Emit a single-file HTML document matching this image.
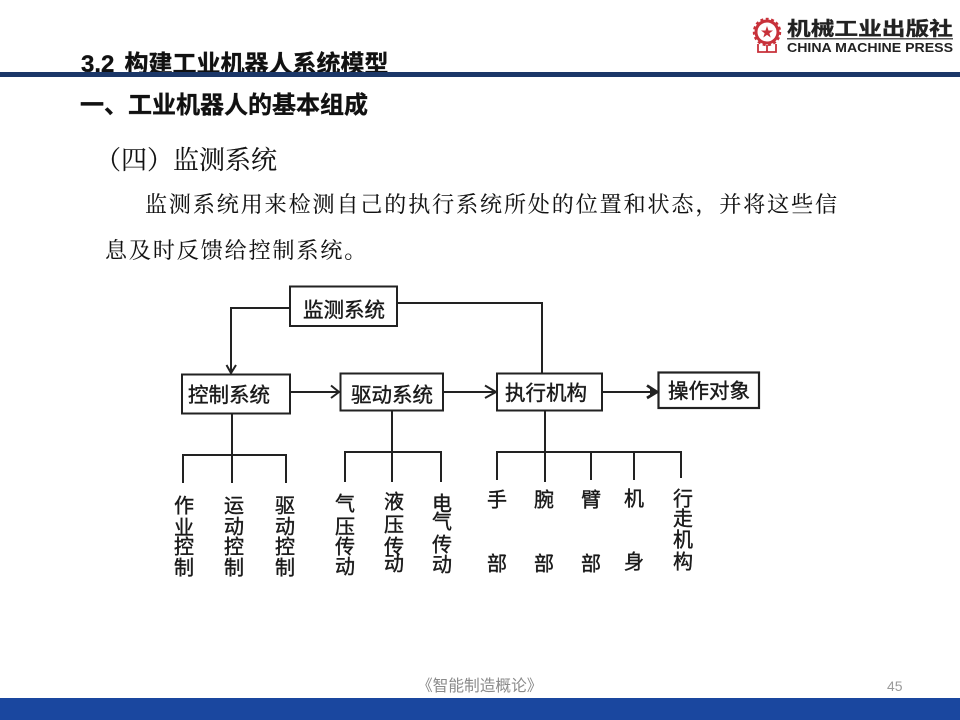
<!DOCTYPE html>
<html lang="zh">
<head>
<meta charset="utf-8">
<title>监测系统</title>
<style>
html,body{margin:0;padding:0;background:#fff;}
svg{display:block;}
.h{font-family:"Liberation Sans","Noto Sans CJK SC",sans-serif;font-weight:700;fill:#111;stroke:#111;stroke-width:.35;}
.s{font-family:"Liberation Serif","Noto Serif CJK SC",serif;fill:#111;stroke:#111;stroke-width:.12;}
.b{font-family:"WenQuanYi Zen Hei","Noto Sans CJK SC",sans-serif;fill:#1a1a1a;stroke:#1a1a1a;stroke-width:.4;font-size:20.5px;text-anchor:middle;dominant-baseline:central;}
.l{font-family:"WenQuanYi Zen Hei","Noto Sans CJK SC",sans-serif;fill:#1a1a1a;stroke:#1a1a1a;stroke-width:.4;font-size:20px;text-anchor:middle;dominant-baseline:central;}
.f{font-family:"Liberation Sans","Noto Sans CJK SC",sans-serif;}
</style>
</head>
<body>
<svg xmlns="http://www.w3.org/2000/svg" width="960" height="720" viewBox="0 0 960 720">
<defs><filter id="bl" x="-5%" y="-5%" width="110%" height="110%"><feGaussianBlur stdDeviation="0.35"/></filter></defs>
<rect width="960" height="720" fill="#fff"/>

<!-- headings and bar -->
<text class="h" x="81" y="72" font-size="24">3.2 <tspan x="124.500">构建工业机器人系统模型</tspan></text>
<rect x="0" y="72" width="960" height="5" fill="#1b3768"/>
<text class="h" x="80" y="113" font-size="24">一、工业机器人的基本组成</text>

<!-- logo -->
<g fill="none" stroke="#c8313a">
<circle cx="767" cy="32" r="11" stroke-width="3"/>
<circle cx="767" cy="32" r="13.200" stroke-width="2" stroke-dasharray="3 2.500"/>
<path d="M758 44v8h8.500l.5-1.500 .5 1.500h8.500v-8M767 45v5" stroke-width="1.800"/>
</g>
<polygon fill="#c8313a" points="767,26 768.500,30.500 773,30.500 769.400,33.200 770.700,37.500 767,34.900 763.300,37.500 764.600,33.200 761,30.500 765.500,30.500"/>
<g transform="translate(787 35) scale(1 .8)">
<text class="f" x="0" y="0" font-size="23.700" font-weight="700" fill="#222" stroke="#222" stroke-width=".4">机械工业出版社</text>
</g>
<rect x="787" y="38" width="166" height="1.500" fill="#555"/>
<text class="f" x="787" y="52" font-size="13.200" font-weight="700" fill="#222" textLength="166" lengthAdjust="spacingAndGlyphs">CHINA MACHINE PRESS</text>

<!-- body text -->
<text class="s" x="95" y="169" font-size="26">（四）监测系统</text>
<text class="s" x="145" y="212" font-size="22" letter-spacing="1.930">监测系统用来检测自己的执行系统所处的位置和状态，并将这些信</text>
<text class="s" x="105" y="258" font-size="22" letter-spacing="1.930">息及时反馈给控制系统。</text>

<!-- diagram -->
<g filter="url(#bl)">
<g fill="none" stroke="#222" stroke-width="2">
<rect x="290" y="286.500" width="107" height="39.500"/>
<rect x="182" y="374.500" width="108" height="39"/>
<rect x="340.500" y="373.500" width="102.500" height="37"/>
<rect x="497" y="373.500" width="105" height="37"/>
<rect x="658.500" y="372.500" width="100.500" height="35.500" stroke-width="2.200"/>
<path d="M289 308H231V372"/>
<path d="M397 303H542V373"/>
<path d="M290 392H338"/>
<path d="M443 392H495"/>
<path d="M602 392H656"/>
<path d="M232 414V483M183 483V455H286V483"/>
<path d="M392 410V482M345 482V452H441V482"/>
<path d="M545 410V482M497 480V452H681V478M591 452V480M634 452V480"/>
<!-- arrowheads -->
<path d="M226.500 365L231 373L236 365"/>
<path d="M331 385.500L339 392L331 398"/>
<path d="M485 385.500L496 392L485 398"/>
<path d="M647 385.500L657 392L647 398" stroke-width="2.800"/>
</g>
<polygon points="228,369 234,369 231,374.500" fill="#222"/>
<polygon points="650,388 658,392 650,396" fill="#222"/>

<text class="b" x="344" y="308">监测系统</text>
<text class="b" x="229" y="393">控制系统</text>
<text class="b" x="392" y="393">驱动系统</text>
<text class="b" x="546" y="391">执行机构</text>
<text class="b" x="709" y="389">操作对象</text>

<text class="l" x="184" y="504">作</text><text class="l" x="184" y="526">业</text><text class="l" x="184" y="545">控</text><text class="l" x="184" y="566">制</text>
<text class="l" x="234" y="504">运</text><text class="l" x="234" y="525">动</text><text class="l" x="234" y="545">控</text><text class="l" x="234" y="566">制</text>
<text class="l" x="285" y="504">驱</text><text class="l" x="285" y="525">动</text><text class="l" x="285" y="545">控</text><text class="l" x="285" y="566">制</text>
<text class="l" x="345" y="502">气</text><text class="l" x="345" y="525">压</text><text class="l" x="345" y="545">传</text><text class="l" x="345" y="565">动</text>
<text class="l" x="394" y="500">液</text><text class="l" x="394" y="523">压</text><text class="l" x="394" y="545">传</text><text class="l" x="394" y="562">动</text>
<text class="l" x="442" y="502">电</text><text class="l" x="442" y="520">气</text><text class="l" x="442" y="543">传</text><text class="l" x="442" y="563">动</text>
<text class="l" x="497" y="498">手</text><text class="l" x="497" y="562">部</text>
<text class="l" x="544" y="498">腕</text><text class="l" x="544" y="562">部</text>
<text class="l" x="591" y="498">臂</text><text class="l" x="591" y="562">部</text>
<text class="l" x="634" y="497">机</text><text class="l" x="634" y="560">身</text>
<text class="l" x="683" y="497">行</text><text class="l" x="683" y="517">走</text><text class="l" x="683" y="538">机</text><text class="l" x="683" y="560">构</text>
</g>

<!-- footer -->
<text class="f" x="417" y="691" font-size="15.700" fill="#8a8a8a">《智能制造概论》</text>
<text class="f" x="887" y="691" font-size="14" fill="#9a9a9a">45</text>
<rect x="0" y="698" width="960" height="22" fill="#1a479f"/>
</svg>
</body>
</html>
